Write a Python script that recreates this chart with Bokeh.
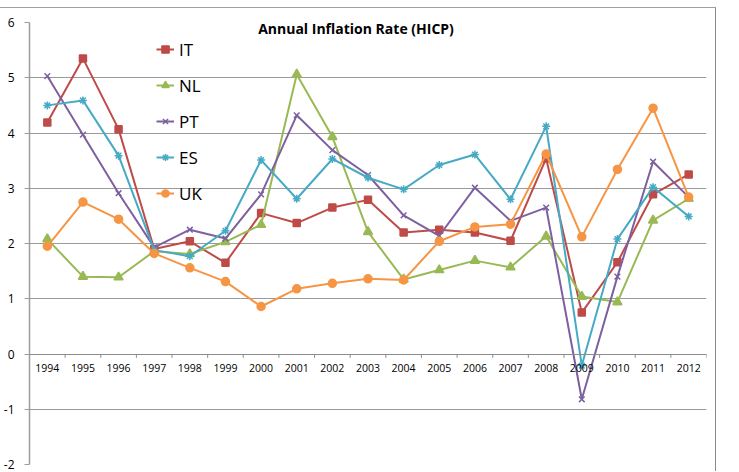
from bokeh.plotting import figure
from bokeh.models import (FactorRange, Range1d, SingleIntervalTicker, Legend, LegendItem,
                          Label, CategoricalAxis, ColumnDataSource)
from bokeh.core.properties import value
from bokeh.embed import file_html
from bokeh.resources import INLINE

years = ["1994", "1995", "1996", "1997", "1998", "1999", "2000", "2001", "2002", "2003",
         "2004", "2005", "2006", "2007", "2008", "2009", "2010", "2011", "2012"]
it_vals = [4.19, 5.35, 4.07, 1.90, 2.04, 1.65, 2.55, 2.37, 2.65, 2.79,
           2.20, 2.25, 2.20, 2.05, 3.54, 0.75, 1.66, 2.89, 3.25]
nl_vals = [2.08, 1.40, 1.39, 1.86, 1.81, 2.03, 2.34, 5.06, 3.93, 2.21,
           1.35, 1.52, 1.69, 1.57, 2.13, 1.04, 0.94, 2.42, 2.81]
pt_vals = [5.03, 3.97, 2.91, 1.93, 2.25, 2.09, 2.89, 4.32, 3.69, 3.24,
           2.51, 2.14, 3.01, 2.41, 2.65, -0.82, 1.40, 3.48, 2.84]
es_vals = [4.50, 4.59, 3.59, 1.88, 1.77, 2.23, 3.51, 2.81, 3.53, 3.19,
           2.98, 3.42, 3.61, 2.80, 4.12, -0.21, 2.08, 3.02, 2.49]
uk_vals = [1.95, 2.75, 2.44, 1.82, 1.56, 1.31, 0.86, 1.18, 1.28, 1.36,
           1.34, 2.04, 2.30, 2.35, 3.62, 2.12, 3.34, 4.45, 2.84]
series_names = ["IT", "NL", "PT", "ES", "UK"]
title_text = "Annual Inflation Rate (HICP)"

FONT = "Open Sans"
GRID = "#9a9a9a"
AXIS = "#9d9d9d"

p = figure(width=716, height=464,
           x_range=FactorRange(factors=years),
           y_range=Range1d(-2, 6),
           output_backend="svg", toolbar_location=None,
           x_axis_location=None,
           min_border_left=29, min_border_right=10, min_border_top=14, min_border_bottom=8)
p.styles = {"margin-top": "7px", "border-top": "1px solid #a0a0a0",
            "border-right": "1px solid #8a8a8a"}
p.outline_line_color = None
p.background_fill_color = "white"
p.border_fill_color = "white"

# y axis
p.yaxis.ticker = SingleIntervalTicker(interval=1)
p.yaxis.axis_line_color = AXIS
p.yaxis.axis_line_width = 1.5
p.yaxis.major_tick_line_color = AXIS
p.yaxis.major_tick_out = 5
p.yaxis.major_tick_in = 0
p.yaxis.minor_tick_line_color = None
p.yaxis.major_label_standoff = 10
p.yaxis.major_label_text_font = FONT
p.yaxis.major_label_text_font_size = "12px"
p.yaxis.major_label_text_color = "#000000"
p.yaxis.major_label_overrides = {-1: "-1", -2: "-2"}
p.ygrid.ticker = SingleIntervalTicker(interval=1)
p.ygrid.grid_line_color = GRID
p.xgrid.visible = False

# x axis crossing at y = 0
xaxis = CategoricalAxis(fixed_location=0)
xaxis.axis_line_color = "#8c8c8c"
xaxis.major_tick_out = 0
xaxis.major_tick_in = 0
xaxis.major_label_standoff = 10
xaxis.major_label_text_font = FONT
xaxis.major_label_text_font_size = "10.5px"
xaxis.major_label_text_color = "#000000"
p.add_layout(xaxis, "below")

# tick marks at category boundaries
bounds = list(range(len(years) + 1))
p.segment(x0=bounds, y0=[0] * len(bounds), x1=bounds, y1=[-0.07] * len(bounds),
          line_color="#8c8c8c", line_width=1)

colors = ["#BE4B48", "#98B954", "#7D60A0", "#46AAC5", "#F69544"]
markers = ["square", "triangle", "x", "asterisk", "circle"]
sizes = [7, 9, 8, 8, 8]
vals = [it_vals, nl_vals, pt_vals, es_vals, uk_vals]

items = []
for name, v, c, m, s in zip(series_names, vals, colors, markers, sizes):
    src = ColumnDataSource(dict(x=years, y=v))
    rl = p.line("x", "y", source=src, line_color=c, line_width=2)
    rm = p.scatter("x", "y", source=src, marker=m, size=s, fill_color=c,
                   line_color=c, line_width=1.5)
    items.append(LegendItem(label=name, renderers=[rl, rm]))

legend = Legend(items=items, location=(127, 259), orientation="vertical",
                label_text_font=FONT, label_text_font_size="17px", label_text_color="#000000",
                glyph_width=18, glyph_height=24, label_height=24, spacing=12,
                label_standoff=5, padding=0, margin=0,
                background_fill_alpha=0, border_line_alpha=0)
p.add_layout(legend)

title = Label(x=years.index("2003") + 0.5, y=6, x_offset=-12, y_offset=-6, text=title_text,
              text_font=FONT, text_font_size="14px", text_font_style="bold",
              text_align="center", text_baseline="middle", text_color="#000000",
              background_fill_color="white")
p.add_layout(title)

open("out.html", "w").write(file_html(p, INLINE))
